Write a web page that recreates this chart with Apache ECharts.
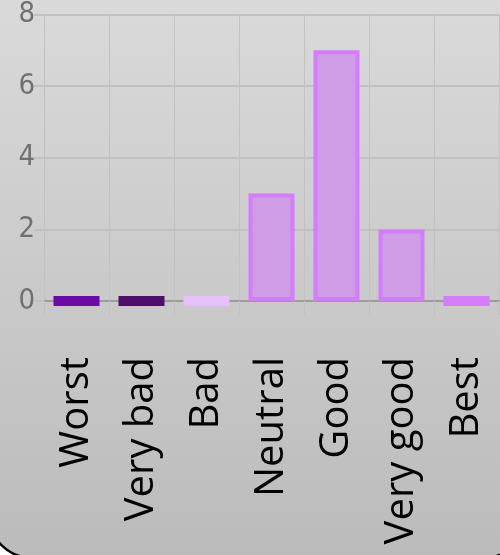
<!DOCTYPE html>
<html>
<head>
<meta charset="utf-8">
<script src="https://cdn.jsdelivr.net/npm/echarts@6/dist/echarts.min.js"></script>
<style>
  html, body { margin: 0; padding: 0; background: #ffffff; }
  #chart { width: 500px; height: 555px; }
</style>
</head>
<body>
<div id="chart"></div>
<script>
// 数据
const categories = ["Worst", "Very bad", "Bad", "Neutral", "Good", "Very good", "Best"];
const counts = [0, 0, 0, 3, 7, 2, 0];
const yTicks = [0, 2, 4, 6, 8];

// 每根柱子的颜色 (填充, 边框)
const barFill = ["#7412b4", "#5a1479", "#e4bdf5", "#cf9de6", "#cf9de6", "#cf9de6", "#d47cfa"];
const barBorder = ["#6a0ba6", "#4e0f6c", "#e6c0f8", "#d47cfc", "#d47cfc", "#d47cfc", "#d47cfa"];

const myChart = echarts.init(document.getElementById("chart"));

const option = {
  animation: false,
  // 背景面板：灰色渐变 + 左下圆角黑边
  graphic: [
    {
      type: "rect",
      z: -100,
      silent: true,
      shape: { x: -12, y: -60, width: 540, height: 618, r: 45 },
      style: {
        fill: new echarts.graphic.LinearGradient(0, 0, 0, 1, [
          { offset: 0, color: "#dddddd" },
          { offset: 1, color: "#bbbbbb" },
        ]),
        stroke: "#000000",
        lineWidth: 2.5,
      },
    },
  ],
  grid: {
    left: 44,
    right: 1,
    top: 10,
    bottom: 254,
    containLabel: false,
  },
  xAxis: {
    type: "category",
    data: categories,
    boundaryGap: true,
    axisLine: {
      show: true,
      lineStyle: { color: "#9c9c9c", width: 2 },
    },
    axisTick: {
      show: true,
      length: 14,
      lineStyle: { color: "#c0c0c0", width: 1 },
    },
    splitLine: {
      show: true,
      lineStyle: { color: "#c2c2c2", width: 1 },
    },
    axisLabel: {
      rotate: 90,
      margin: 56,
      color: "#000000",
      fontFamily: "Open Sans",
      fontSize: 40,
      interval: 0,
    },
  },
  yAxis: {
    type: "value",
    min: yTicks[0],
    max: yTicks[yTicks.length - 1],
    interval: yTicks[1] - yTicks[0],
    axisLine: {
      show: true,
      lineStyle: { color: "#c2c2c2", width: 1 },
    },
    axisTick: {
      show: true,
      length: 10,
      lineStyle: { color: "#c0c0c0", width: 2 },
    },
    splitLine: {
      lineStyle: { color: "#c0c0c0", width: 2 },
    },
    axisLabel: {
      margin: 9,
      color: "#707070",
      fontFamily: "DejaVu Sans Condensed",
      fontSize: 29,
    },
  },
  series: [
    {
      type: "bar",
      barWidth: 46,
      data: counts.map((v, i) => ({
        value: v,
        itemStyle: {
          color: barFill[i],
          borderColor: barBorder[i],
          borderWidth: v === 0 ? 10 : 4,
        },
      })),
    },
  ],
};

myChart.setOption(option, true);
</script>
</body>
</html>
